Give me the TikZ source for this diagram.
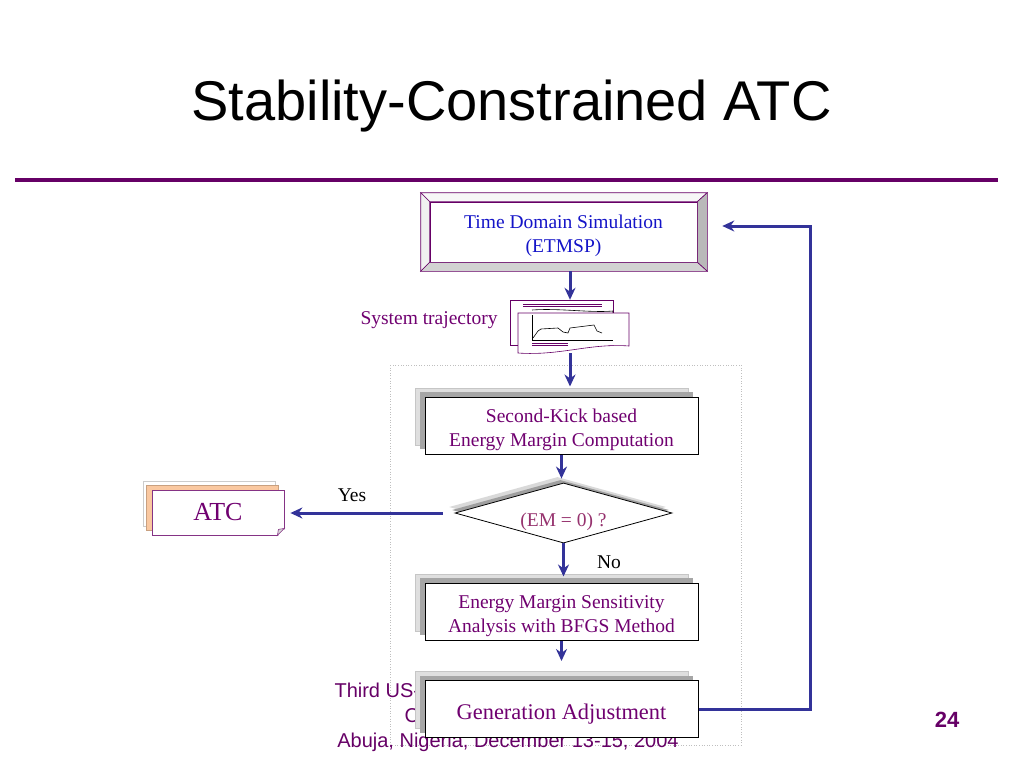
\documentclass[tikz,border=0pt]{standalone}
\usepackage{fontspec}
\setmainfont{Liberation Serif}
\setsansfont{Liberation Sans}
\usetikzlibrary{calc,positioning,shapes.geometric,shadows,arrows.meta}
\definecolor{slidepurple}{RGB}{102,0,102}
\definecolor{txtpurple}{RGB}{112,0,112}
\definecolor{emtext}{RGB}{150,50,110}
\definecolor{flowblue}{RGB}{51,51,153}
\definecolor{simblue}{RGB}{20,20,200}
\definecolor{peach}{RGB}{250,200,160}

\begin{document}
\begin{tikzpicture}[x=1pt,y=-1pt,
  flow/.style={draw=flowblue,line width=3pt,-{Stealth[length=12pt,width=11pt]}},
  txt/.style={font=\fontsize{19.5}{24}\selectfont,align=center},
  foot/.style={font=\sffamily\fontsize{20}{24}\selectfont,text=slidepurple,anchor=base west},
  stepbox/.style={draw=black,fill=white,line width=1pt,minimum width=273pt,
    minimum height=57pt,inner sep=0pt,txt,text height=46pt,text=txtpurple,
    general shadow={shadow xshift=-10pt,shadow yshift=9pt,fill=gray!25,draw=gray!45,line width=.6pt},
    general shadow={shadow xshift=-5pt,shadow yshift=5pt,fill=gray!70,draw=none}},
  bevel/.style={draw=slidepurple,line width=.6pt}]
 \useasboundingbox (0,0) rectangle (1024,768);
 \node[font=\sffamily\fontsize{56}{60}\selectfont,anchor=base] (title) at (511.5,120)
  {Stability-Constrained ATC};
 \draw[slidepurple,line width=4pt] (15,180) -- (998,180);
 \draw[gray!50,dotted,line width=.6pt] (390,365) rectangle (741,745);
 % footer, partly hidden by the last box
 \node[foot] (foota) at (331,697) {Third US-A};
 \node[foot] (footb) at (401,722) {C};
 \node[foot,anchor=base] (footc) at (508,747) {Abuja, Nigeria, December 13-15, 2004};
 \node[font=\sffamily\bfseries\fontsize{22}{24}\selectfont,text=slidepurple,anchor=base] (page) at (947,727) {24};
 % time domain simulation
 \node[draw=slidepurple,line width=.6pt,fill=white,minimum width=267pt,minimum height=60pt,
  txt,text height=46pt,text=simblue] (tdsim) at (563.5,232) {Time Domain Simulation\\(ETMSP)};
 \filldraw[bevel,fill=gray!6] ($(tdsim.north west)+(-9,-9)$) -- ($(tdsim.north east)+(10,-9)$)
  -- (tdsim.north east) -- (tdsim.north west) -- cycle;
 \filldraw[bevel,fill=gray!12] ($(tdsim.north west)+(-9,-9)$) -- (tdsim.north west)
  -- (tdsim.south west) -- ($(tdsim.south west)+(-9,9)$) -- cycle;
 \filldraw[bevel,fill=gray!55] ($(tdsim.north east)+(10,-9)$) -- ($(tdsim.south east)+(10,9)$)
  -- (tdsim.south east) -- (tdsim.north east) -- cycle;
 \filldraw[bevel,fill=gray!35] ($(tdsim.south west)+(-9,9)$) -- ($(tdsim.south east)+(10,9)$)
  -- (tdsim.south east) -- (tdsim.south west) -- cycle;
 % system trajectory
 \node[minimum width=120pt,minimum height=53pt,inner sep=0pt] (traj) at (570,326.5) {};
 \node[txt,text=txtpurple,anchor=base] (trajlbl) at (429,324) {System trajectory};
 \filldraw[draw=slidepurple,fill=white,line width=.6pt] (510,300) rectangle (613,345);
 \draw[slidepurple,line width=.8pt] (523,304) -- (602,304) (523,306.5) -- (602,306.5);
 \draw[line width=.6pt] (532,310) .. controls (560,308) and (590,313) .. (613,311) -- (613,316);
 \filldraw[draw=slidepurple,fill=white,line width=.6pt] (518,313) -- (629,313) -- (629,346)
  .. controls (590,343) and (560,356) .. (518,353) -- cycle;
 \draw[line width=.7pt] (532,315) -- (532,340) -- (613,340);
 \draw[line width=.6pt] (533,338) -- (538,331) -- (541,329) -- (558,328) -- (563,332) -- (568,333)
  -- (570,328) -- (594,325) -- (597,331) -- (602,333);
 \draw[slidepurple,line width=.8pt] (532,343) -- (568,343) (532,345.5) -- (568,345.5);
 % flow boxes
 \node[stepbox] (sk) at (561.5,425.5) {Second-Kick based\\Energy Margin Computation};
 \node[diamond,aspect=3.6,draw=black,fill=white,line width=.8pt,inner sep=0pt,
  minimum width=217pt,minimum height=60pt,txt,text height=32pt,text=emtext,
  general shadow={shadow xshift=-6pt,shadow yshift=6pt,fill=gray!30,draw=none},
  general shadow={shadow xshift=-3pt,shadow yshift=3pt,fill=gray!75,draw=none}] (emq)
  at (563.5,513) {(EM = 0) ?};
 \node[stepbox] (ema) at (561.5,611.5) {Energy Margin Sensitivity\\Analysis with BFGS Method};
 \node[stepbox,font=\fontsize{22.4}{26}\selectfont,text height=25.5pt] (gen) at (561.5,709) {Generation Adjustment};
 \node[draw=slidepurple!80,fill=white,line width=.8pt,minimum width=132pt,minimum height=45pt,
  inner sep=0pt,font=\fontsize{26}{30}\selectfont,text=txtpurple,
  general shadow={shadow xshift=-9pt,shadow yshift=9pt,fill=white,draw=gray!40,line width=.6pt},
  general shadow={shadow xshift=-6pt,shadow yshift=5pt,fill=peach,draw=peach!80!black,line width=.4pt}]
  (atc) at (218,512.5) {ATC};
 \fill[white] ($(atc.south east)+(-7,1)$) -- ($(atc.south east)+(1,1)$) -- ($(atc.south east)+(1,-7)$) -- cycle;
 \filldraw[draw=slidepurple!80,fill=gray!30,line width=.6pt] ($(atc.south east)+(-7,0)$)
  -- ($(atc.south east)+(-6,-6)$) -- ($(atc.south east)+(0,-7)$) -- cycle;
 \node[txt,anchor=base] (yes) at (352,501) {Yes};
 \node[txt,anchor=base] (no) at (609,568) {No};
 % connectors
 \draw[flow] ($(tdsim.south -| traj.north)+(0,9)$) -- (traj.north);
 \draw[flow,shorten >=10pt] (traj.south) -- (traj.south |- sk.north);
 \draw[flow,shorten >=4pt] (sk.south) -- (sk.south |- emq.north);
 \draw[flow,shorten >=6pt] (emq.south) -- (emq.south |- ema.north);
 \draw[flow,shorten >=19pt] (ema.south) -- (ema.south |- gen.north);
 \draw[flow,shorten <=12pt,shorten >=6pt] (emq.west) -- (emq.west -| atc.east);
 \draw[flow] (gen.east) -- ++(112,0) |- ($(tdsim.east)+(25,-6)$);
\end{tikzpicture}
\end{document}
